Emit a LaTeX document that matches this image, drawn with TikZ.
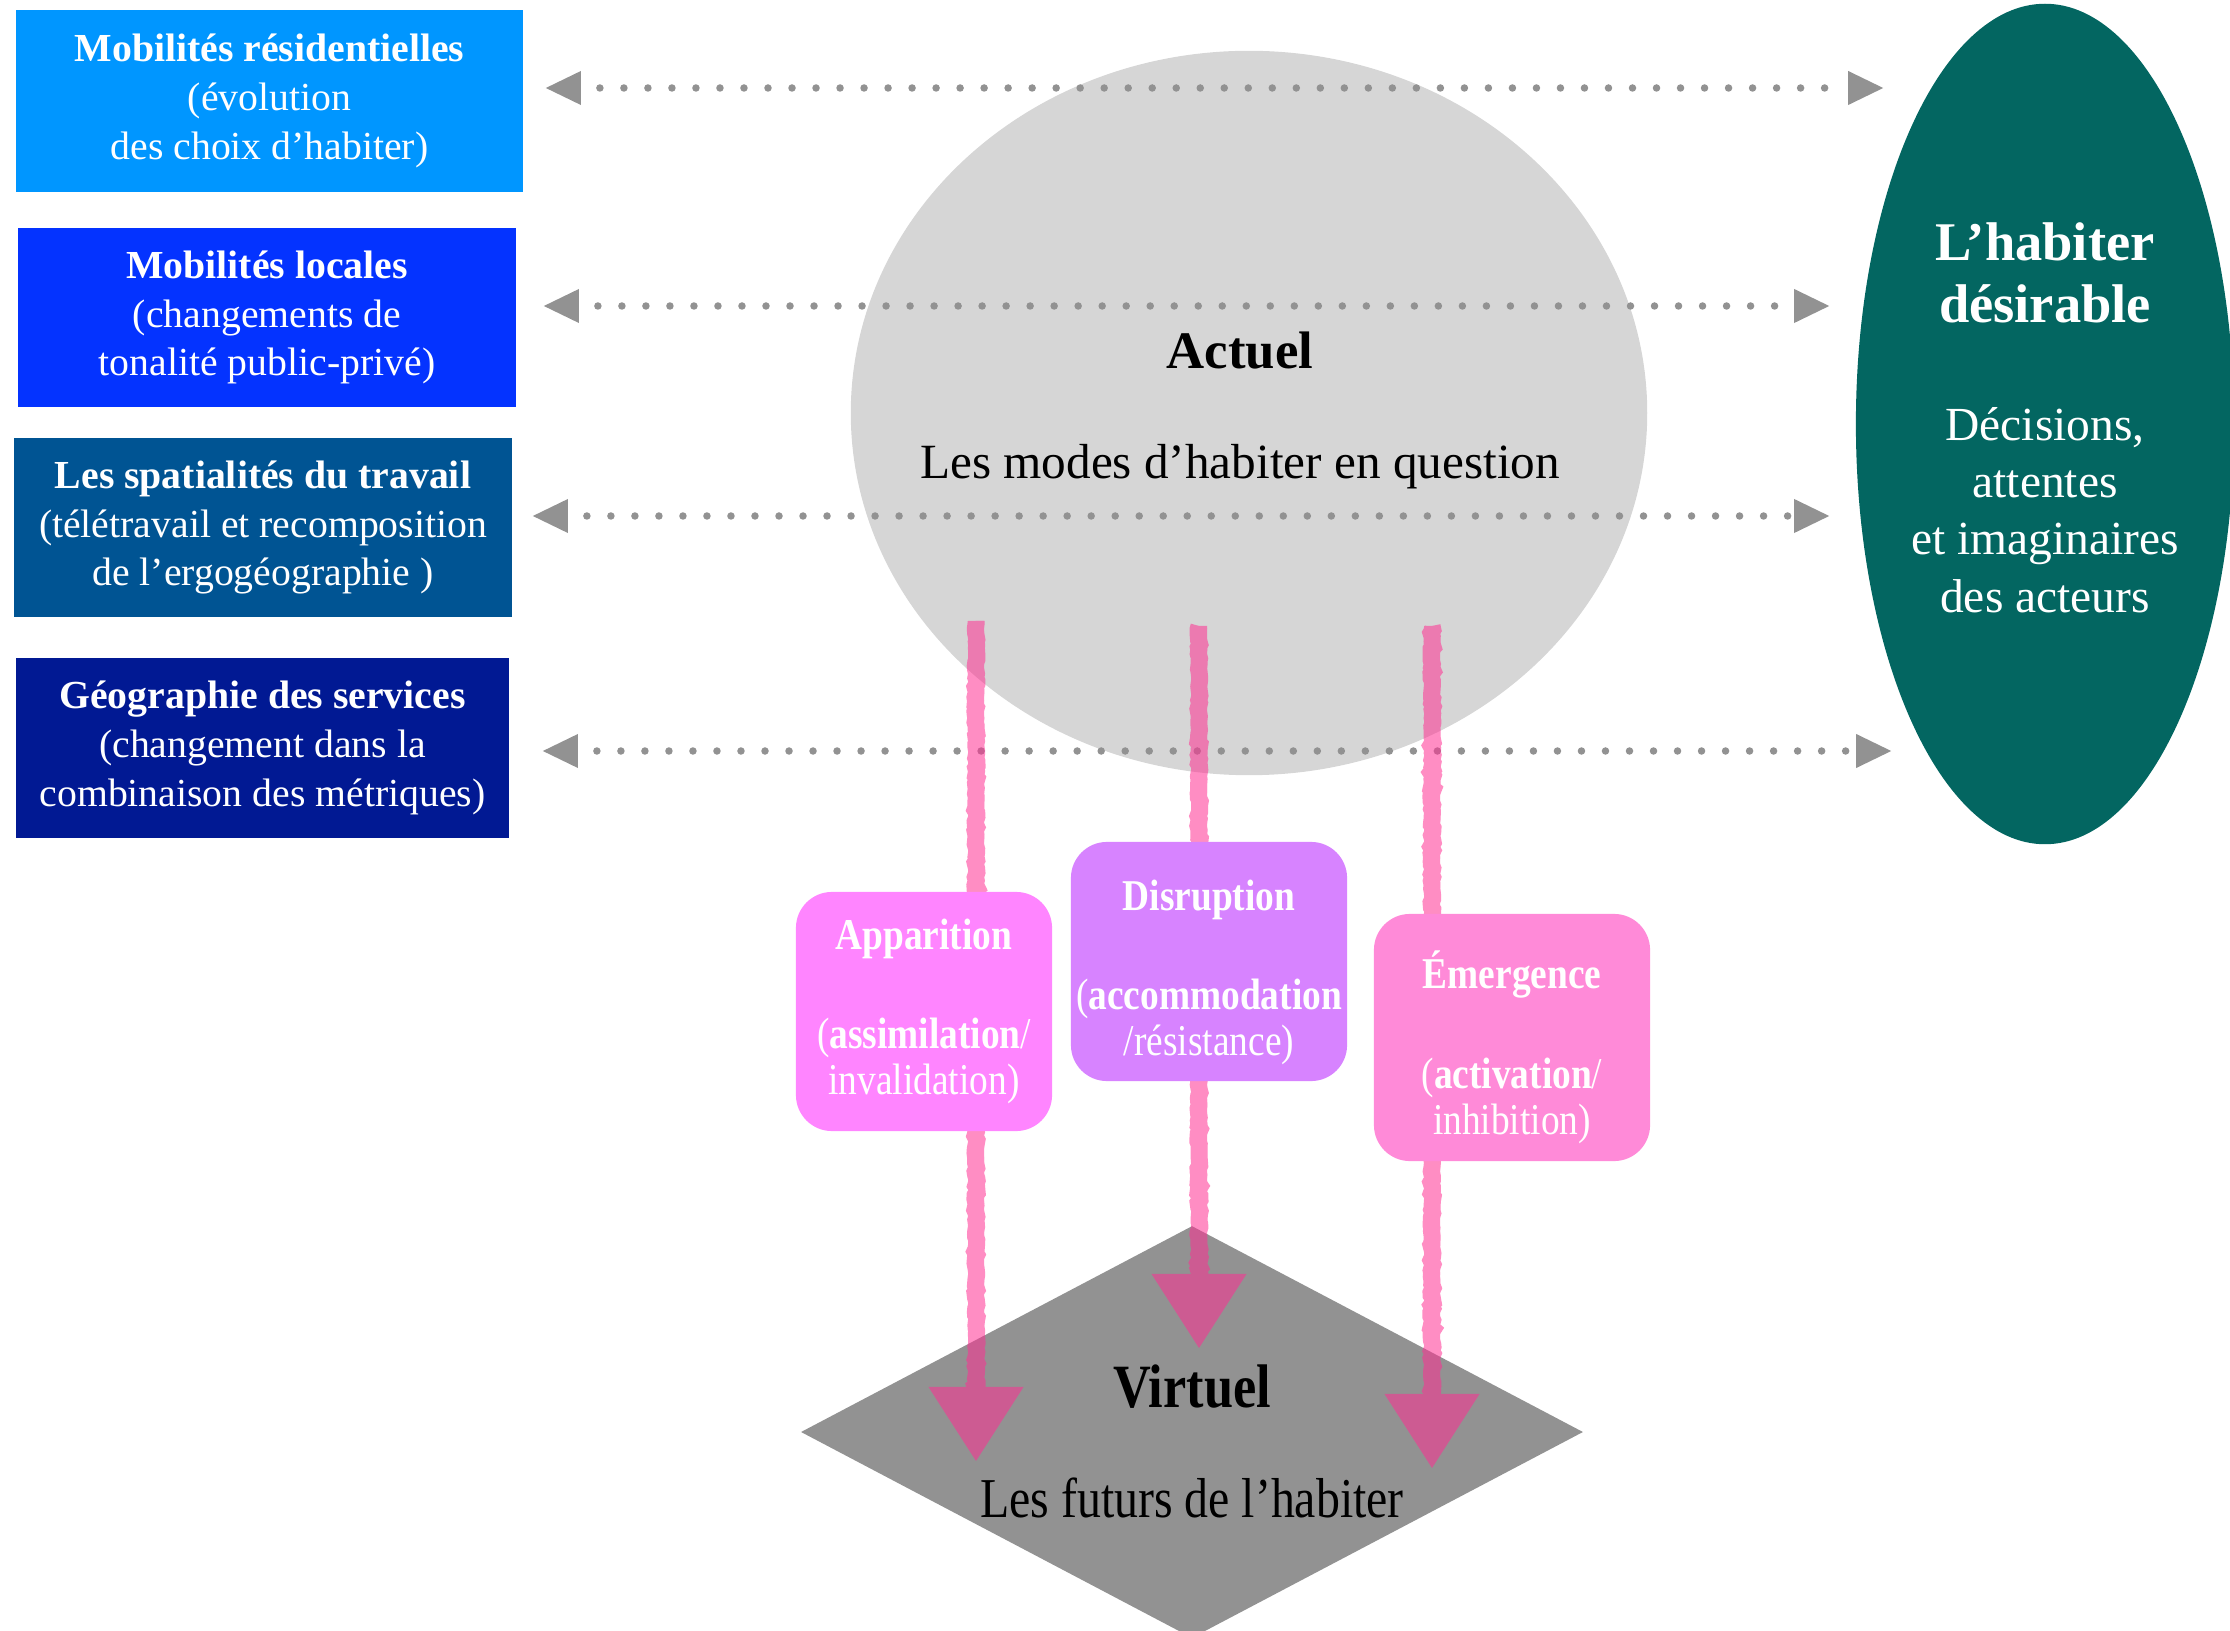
\documentclass[tikz,border=0pt]{standalone}
\usepackage{fontspec}
\setmainfont{Liberation Serif}
\newfontfamily\narrowserif{Liberation Serif}[FakeStretch=0.85]
\usetikzlibrary{shapes.geometric,arrows.meta,decorations.pathmorphing}

\definecolor{aqua}{HTML}{0096FF}
\definecolor{blueberry}{HTML}{0433FF}
\definecolor{ocean}{HTML}{005493}
\definecolor{midnight}{HTML}{011993}
\definecolor{silverfill}{HTML}{D6D6D6}
\definecolor{nickel}{HTML}{929292}
\definecolor{tealdeep}{HTML}{036661}
\definecolor{bubblegum}{HTML}{FF85FF}
\definecolor{lavender}{HTML}{D783FF}
\definecolor{carnation}{HTML}{FF8AD8}
\definecolor{strawberry}{HTML}{FF2F92}

\begin{document}
\begin{tikzpicture}[x=0.01cm,y=-0.01cm,
  bluebox/.style={rectangle, inner sep=0pt, text=white, align=center,
    font=\fontsize{11.3}{13.9}\selectfont},
  pinkbox/.style={rectangle, rounded corners=3.6mm, inner sep=0pt},
  pinktext/.style={inner sep=0pt, text=white, align=center,
    font=\narrowserif\fontsize{12.5}{13.2}\selectfont},
  dotline/.style={nickel, line width=0.75mm, line cap=round,
    dash pattern=on 0pt off 2.4mm, dash phase=0.5mm,
    {Triangle[length=3.5mm,width=3.4mm,line width=0pt]}-{Triangle[length=3.5mm,width=3.4mm,line width=0pt]}},
  chalk/.style={strawberry, line width=1.6mm,
    -{Triangle[length=7.4mm,width=9.5mm,line width=0pt]}},
  chalkgrain/.style={strawberry, line width=1.7mm, decorate,
    decoration={random steps, segment length=0.35mm, amplitude=0.12mm}},
  plain/.style={inner sep=0pt, align=center}
]
\useasboundingbox (0,0) rectangle (2230,1631);

% central shapes
\node[ellipse, fill=silverfill, inner sep=0pt, minimum width=7.96cm, minimum height=7.24cm] (actuel) at (1249,413) {};
\node[diamond, fill=nickel, inner sep=0pt, minimum width=7.82cm, minimum height=4.12cm] (virtuel) at (1192,1432) {};
\node[ellipse, fill=tealdeep, inner sep=0pt, minimum width=3.78cm, minimum height=8.4cm] (desire) at (2045,424) {};

% blue boxes on the left
\node[bluebox, fill=aqua, minimum width=5.07cm, minimum height=1.82cm] (b1) at (269.5,101)
  {\textbf{Mobilités résidentielles}\\(évolution\\des choix d’habiter)};
\node[bluebox, fill=blueberry, minimum width=4.98cm, minimum height=1.79cm] (b2) at (267,317.5)
  {\textbf{Mobilités locales}\\(changements de\\tonalité public-privé)};
\node[bluebox, fill=ocean, minimum width=4.98cm, minimum height=1.79cm] (b3) at (263,527.5)
  {\textbf{Les spatialités du travail}\\(télétravail et recomposition\\de l’ergogéographie )};
\node[bluebox, fill=midnight, minimum width=4.93cm, minimum height=1.80cm] (b4) at (262.5,748)
  {\textbf{Géographie des services}\\(changement dans la\\combinaison des métriques)};

% dotted two-way links
\coordinate (r1) at (0,88);
\coordinate (r2) at (0,306);
\coordinate (r3) at (0,516);
\coordinate (r4) at (0,751);
\draw[dotline, shorten <=2.2mm, shorten >=-2.8mm] (b1.east |- r1) -- (desire.west |- r1);
\draw[dotline, shorten <=2.7mm, shorten >=2.6mm] (b2.east |- r2) -- (desire.west |- r2);
\draw[dotline, shorten <=2.0mm, shorten >=2.6mm] (b3.east |- r3) -- (desire.west |- r3);
\draw[dotline, shorten <=3.3mm, shorten >=-3.6mm] (b4.east |- r4) -- (desire.west |- r4);

% pink arrows from the actual to the virtual
\coordinate (a1s) at (976,621);
\coordinate (a1e) at (976,1461);
\coordinate (a2s) at (1199,626);
\coordinate (a2e) at (1199,1348);
\coordinate (a3s) at (1432,626);
\coordinate (a3e) at (1432,1468);
\begin{scope}[transparency group, opacity=0.55]
  \draw[chalk] (a1s) -- (a1e);
  \draw[chalk] (a2s) -- (a2e);
  \draw[chalk] (a3s) -- (a3e);
  \draw[chalkgrain] (a1s) -- ([yshift=7mm]a1e);
  \draw[chalkgrain] (a2s) -- ([yshift=7mm]a2e);
  \draw[chalkgrain] (a3s) -- ([yshift=7mm]a3e);
\end{scope}

% process boxes
\node[pinkbox, fill=bubblegum, minimum width=2.56cm, minimum height=2.39cm] (app) at (924,1011.5) {};
\node[pinkbox, fill=lavender, minimum width=2.76cm, minimum height=2.39cm] (dis) at (1209,961.5) {};
\node[pinkbox, fill=carnation, minimum width=2.76cm, minimum height=2.47cm] (eme) at (1512,1037.5) {};
\node[pinktext] (appT) at (app.center)
  {\textbf{Apparition}\\[15pt](\textbf{assimilation}/\\invalidation)};
\node[pinktext] (disT) at ([yshift=-1.1mm]dis.center)
  {\textbf{Disruption}\\[15pt](\textbf{accommodation}\\/résistance)};
\node[pinktext] (emeT) at ([yshift=-1.0mm]eme.center)
  {\textbf{Émergence}\\[15pt](\textbf{activation}/\\inhibition)};

% texts of the central shapes
\node[plain, font=\fontsize{15}{18}\selectfont\bfseries] (actT) at (1240,351) {Actuel};
\node[plain, font=\fontsize{14}{17}\selectfont] (actS) at (1240,467) {Les modes d’habiter en question};
\node[plain, font=\narrowserif\fontsize{17.5}{20}\selectfont\bfseries] (virT) at (1192,1387) {Virtuel};
\node[plain, font=\narrowserif\fontsize{16}{19}\selectfont] (virS) at (1192,1498) {Les futurs de l’habiter};
\node[plain, text=white, font=\fontsize{15.5}{17.6}\selectfont\bfseries] (desT) at (2045,273) {L’habiter\\désirable};
\node[plain, text=white, font=\fontsize{13.5}{16.3}\selectfont] (desS) at (2045,510)
  {Décisions,\\attentes\\et imaginaires\\des acteurs};
\end{tikzpicture}
\end{document}
